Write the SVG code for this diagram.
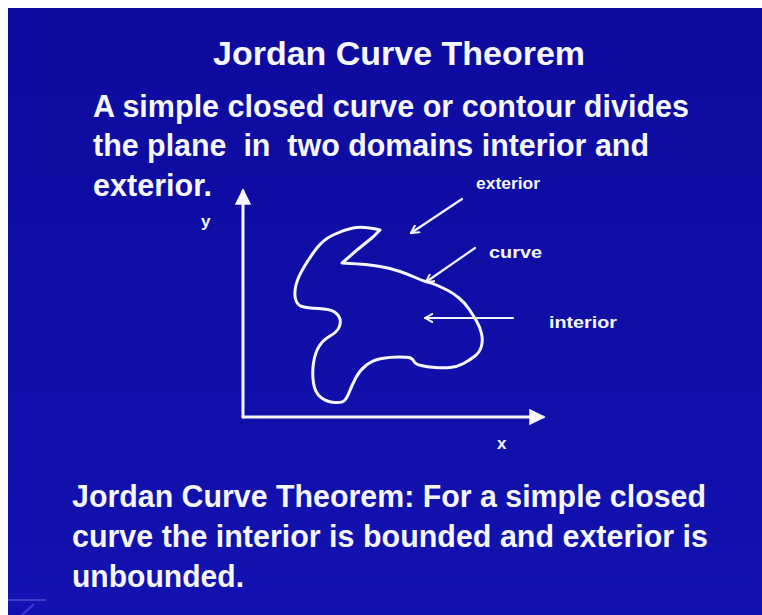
<svg xmlns="http://www.w3.org/2000/svg" width="762" height="615" viewBox="0 0 762 615">
<defs>
<linearGradient id="bg" x1="0" y1="0" x2="0" y2="1">
<stop offset="0" stop-color="#0d0b9e"/>
<stop offset="1" stop-color="#1212b0"/>
</linearGradient>
<marker id="tri" viewBox="0 0 12 12" refX="10" refY="6" markerWidth="5.5" markerHeight="5.5" orient="auto" markerUnits="strokeWidth">
<path d="M0,0 L12,6 L0,12 Z" fill="#f6f6ff"/>
</marker>
<marker id="vee" viewBox="0 0 12 12" refX="10" refY="6" markerWidth="4.5" markerHeight="4.5" orient="auto" markerUnits="strokeWidth">
<path d="M1,1 L10,6 L1,11" fill="none" stroke="#f6f6ff" stroke-width="2.4" stroke-linecap="round" stroke-linejoin="round"/>
</marker>
<style>
.t{font-family:"Liberation Sans",Arial,sans-serif;font-weight:bold;fill:#f6f6ff;white-space:pre}
.big{font-size:31px}
.title{font-size:34px}
.lab{font-size:17px}
.ln{stroke:#f6f6ff;stroke-width:3;fill:none;stroke-linecap:round}
.thin{stroke:#f2f2ff;stroke-width:2.2;fill:none;stroke-linecap:round}
</style>
</defs>
<rect x="0" y="0" width="762" height="615" fill="#ffffff"/>
<rect x="8" y="8" width="754" height="607" fill="url(#bg)"/>
<g id="logo" opacity="0.5">
<rect x="8" y="599" width="38" height="2" fill="#6a6ae6"/>
<line x1="22" y1="615" x2="34" y2="604" stroke="#6a6ae6" stroke-width="2"/>
</g>
<g id="title">
<text class="t title" x="213" y="65" textLength="372" lengthAdjust="spacingAndGlyphs">Jordan Curve Theorem</text>
</g>
<g id="statement">
<text class="t big" x="93" y="117" textLength="596" lengthAdjust="spacingAndGlyphs">A simple closed curve or contour divides</text>
<text class="t big" x="93" y="156" textLength="556" lengthAdjust="spacingAndGlyphs">the plane  in  two domains interior and</text>
<text class="t big" x="93" y="196" textLength="119" lengthAdjust="spacingAndGlyphs">exterior.</text>
</g>
<g id="axes">
<line class="ln" x1="243" y1="417" x2="243" y2="191" marker-end="url(#tri)"/>
<line class="ln" x1="243" y1="417" x2="543" y2="417" marker-end="url(#tri)"/>
<text class="t lab" x="201" y="227">y</text>
<text class="t lab" x="497" y="449">x</text>
</g>
<g id="curve">
<path class="ln" stroke-linejoin="round" d="M380,230 Q363,226 353,228 Q343,230 333,235 Q323,240 316.5,248.5 Q310,257 304,267 Q298,277 296,285 Q294,293 295.5,299 Q297,305 302,306.5 Q307,308 318.5,308.5 Q330,309 334.5,312 Q339,315 340,319 Q341,323 339,327.5 Q337,332 330,336 Q323,340 319,346.5 Q315,353 313.5,363 Q312,373 313.5,383 Q315,393 321,397.5 Q327,402 334.5,402.5 Q342,403 344.5,400.5 Q347,398 349.5,391.5 Q352,385 356,377.5 Q360,370 366.5,365 Q373,360 381.5,358.5 Q390,357 399,357 Q408,357 410.5,358 Q413,359 414,361.5 Q415,364 421,365.5 Q427,367 435,367.5 Q443,368 450,367.5 Q457,367 463.5,363.5 Q470,360 475,356 Q480,352 481.5,346 Q483,340 481.5,333.5 Q480,327 476.5,321 Q473,315 469,309 Q465,303 459,298 Q453,293 448,290.5 Q443,288 437.5,285.5 Q432,283 427.5,282 Q423,281 416.5,278 Q410,275 400,271.5 Q390,268 380,266.5 Q370,265 365,264.5 Q360,264 342,263 L357,250 L373,237 Z"/>
</g>
<g id="connectors">
<line class="thin" x1="462" y1="199" x2="411" y2="233" marker-end="url(#vee)"/>
<line class="thin" x1="475" y1="248" x2="426" y2="282" marker-end="url(#vee)"/>
<line class="thin" x1="513" y1="318" x2="425" y2="318" marker-end="url(#vee)"/>
</g>
<g id="labels">
<text class="t lab" x="476" y="189" textLength="64" lengthAdjust="spacingAndGlyphs">exterior</text>
<text class="t lab" x="489" y="258" textLength="53" lengthAdjust="spacingAndGlyphs">curve</text>
<text class="t lab" x="549" y="328" textLength="68" lengthAdjust="spacingAndGlyphs">interior</text>
</g>
<g id="theorem">
<text class="t big" x="72" y="507" textLength="634" lengthAdjust="spacingAndGlyphs">Jordan Curve Theorem: For a simple closed</text>
<text class="t big" x="72" y="547" textLength="636" lengthAdjust="spacingAndGlyphs">curve the interior is bounded and exterior is</text>
<text class="t big" x="72" y="587" textLength="172" lengthAdjust="spacingAndGlyphs">unbounded.</text>
</g>
</svg>
